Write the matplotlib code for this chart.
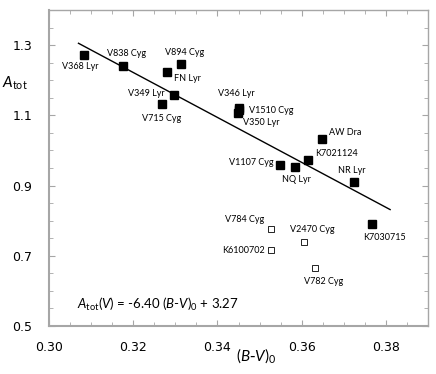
import matplotlib
matplotlib.use('Agg')
import matplotlib.pyplot as plt
from matplotlib.ticker import MultipleLocator, FixedLocator

plt.rcParams['mathtext.fontset'] = 'custom'
plt.rcParams['mathtext.rm'] = 'Lato'
plt.rcParams['mathtext.it'] = 'Lato:italic'

# stars with measured amplitude (filled) and the lower group (open)
names = ['V368 Lyr', 'V838 Cyg', 'V894 Cyg', 'FN Lyr', 'V349 Lyr', 'V715 Cyg',
         'V346 Lyr', 'V1510 Cyg', 'V350 Lyr', 'AW Dra', 'K7021124', 'V1107 Cyg',
         'NQ Lyr', 'NR Lyr', 'K7030715']
bv = [0.3083, 0.3176, 0.3313, 0.3280, 0.3297, 0.3268,
      0.3452, 0.3450, 0.3449, 0.3649, 0.3614, 0.3549,
      0.3583, 0.3724, 0.3768]
atot = [1.273, 1.241, 1.246, 1.223, 1.157, 1.132,
        1.121, 1.114, 1.106, 1.034, 0.973, 0.959,
        0.954, 0.910, 0.790]

open_names = ['V784 Cyg', 'V2470 Cyg', 'K6100702', 'V782 Cyg']
open_bv = [0.3526, 0.3606, 0.3527, 0.3631]
open_atot = [0.775, 0.740, 0.717, 0.664]

slope, icpt = -6.40, 3.27
fit_range = [0.307, 0.381]

yticks = [0.5, 0.7, 0.9, 1.1, 1.3]

# label offsets in pixels (dx, dy, ha)
offs = {
    'V368 Lyr': (-4, -12, 'center'), 'V838 Cyg': (3, 12, 'center'),
    'V894 Cyg': (4, 12, 'center'), 'FN Lyr': (7, -6, 'left'),
    'V349 Lyr': (-9, 2, 'right'), 'V715 Cyg': (0, -14, 'center'),
    'V346 Lyr': (-3, 14, 'center'), 'V1510 Cyg': (10, 0, 'left'),
    'V350 Lyr': (5, -9, 'left'), 'AW Dra': (7, 6, 'left'),
    'K7021124': (8, 6, 'left'), 'V1107 Cyg': (-7, 2, 'right'),
    'NQ Lyr': (2, -13, 'center'), 'NR Lyr': (-2, 12, 'center'),
    'K7030715': (12, -13, 'center'), 'V784 Cyg': (-6, 10, 'right'),
    'V2470 Cyg': (8, 12, 'center'), 'K6100702': (-6, -1, 'right'),
    'V782 Cyg': (9, -13, 'center'),
}

fig = plt.figure(figsize=(4.36, 3.74), dpi=100)
ax = fig.add_axes([0.1124, 0.1283, 0.8693, 0.845])

ax.plot(fit_range, [slope * x + icpt for x in fit_range], color='black', lw=1)
ax.plot(bv, atot, 's', color='black', ms=5.5, zorder=3)
ax.plot(open_bv, open_atot, 's', mfc='white', mec='black', mew=0.6, ms=4.5, zorder=3)

for n, x, y in list(zip(names, bv, atot)) + list(zip(open_names, open_bv, open_atot)):
    dx, dy, ha = offs[n]
    ax.annotate(n, (x, y), xytext=(dx, dy), textcoords='offset pixels',
                ha=ha, va='center', fontsize=6.5, family='Lato')

ax.set_xlim(0.30, 0.39)
ax.set_ylim(0.5, 1.4)
ax.xaxis.set_major_locator(MultipleLocator(0.02))
ax.xaxis.set_minor_locator(MultipleLocator(0.005))
ax.yaxis.set_major_locator(FixedLocator(yticks))
ax.yaxis.set_minor_locator(MultipleLocator(0.05))
ax.xaxis.set_major_formatter(plt.FuncFormatter(lambda v, p: '%.2f' % v))
ax.yaxis.set_major_formatter(plt.FuncFormatter(lambda v, p: '%.1f' % v))
ax.tick_params(which='both', direction='in', top=True, right=True,
               color='#a6a6a6', labelsize=9)
ax.tick_params(axis='x', pad=11)
ax.tick_params(axis='y', pad=12)
ax.tick_params(which='major', length=4)
ax.tick_params(which='minor', length=3)
for s in ax.spines.values():
    s.set_color('#a6a6a6')
    s.set_linewidth(1.0)
ax.spines['left'].set_linewidth(1.5)
ax.spines['bottom'].set_linewidth(1.5)

ax.text(0.3066, 0.5627,
        r'$A_{\mathrm{tot}}(V)$ = -6.40 ($B$-$V$)$_0$ + 3.27',
        fontsize=9.5, family='Lato', va='center', ha='left')

fig.text(2 / 436, 1 - 83 / 374, r'$A_{\mathrm{tot}}$', fontsize=11,
         ha='left', va='center')
fig.text(256 / 436, 1 - 356 / 374, r'$(B$-$V)_0$', fontsize=11,
         ha='center', va='center')

fig.savefig('out.png', dpi=100)
